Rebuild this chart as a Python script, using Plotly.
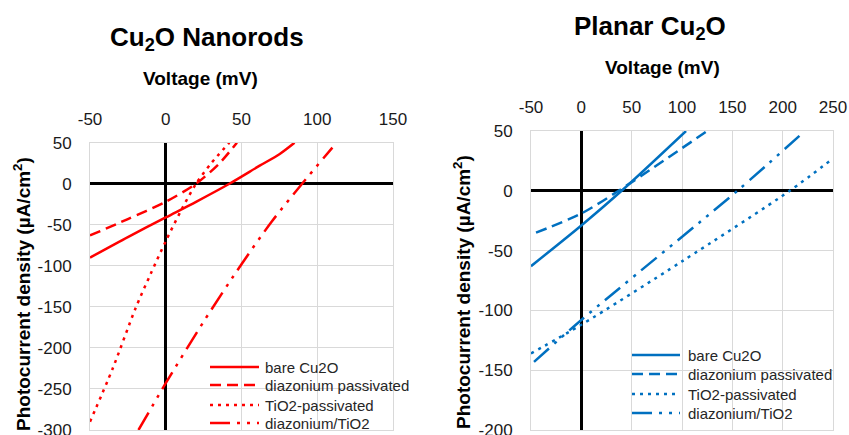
import plotly.graph_objects as go

# ---------------- data ----------------
series_names = ["bare Cu2O", "diazonium passivated", "TiO2-passivated", "diazonium/TiO2"]

# Cu2O Nanorods (left)
nr_bare_x = [-50, -25, 0, 20, 42, 62, 75, 85]
nr_bare_y = [-90, -65, -41, -22, 0, 22, 36, 50]
nr_diaz_x = [-50, -25, 0, 20, 35, 47]
nr_diaz_y = [-63, -43, -22, 0, 24, 50]
nr_tio2_x = [-50, -35, -20, -10, 0, 10, 20, 30, 42]
nr_tio2_y = [-290, -225, -152, -110, -70, -33, 0, 25, 50]
nr_dt_x = [-18, 0, 25, 50, 70, 90, 110]
nr_dt_y = [-300, -243, -168, -98, -46, 0, 44]

# Planar Cu2O (right)
pl_bare_x = [-50, 0, 40, 104]
pl_bare_y = [-63, -29, 0, 50]
pl_diaz_x = [-45, 0, 37, 125]
pl_diaz_y = [-35, -19, 0, 50]
pl_tio2_x = [-50, 0, 100, 207, 250]
pl_tio2_y = [-136, -112, -59, 0, 27]
pl_dt_x = [-47, 0, 155, 222]
pl_dt_y = [-143, -108, 0, 50]

left_xticks = [-50, 0, 50, 100, 150]
left_yticks = [50, 0, -50, -100, -150, -200, -250, -300]
right_xticks = [-50, 0, 50, 100, 150, 200, 250]
right_yticks = [50, 0, -50, -100, -150, -200]

# ---------------- styles ----------------
W, H = 849, 435
RED = "#ff0000"
BLUE = "#0070c0"
FONT = "Liberation Sans, Arial, sans-serif"
DASHES = ["solid", "11px,6px", "3px,5px", "20px,7px,3px,7px,3px,7px"]
LW = 2.5


def px(x):
    return x / W


def py(y):
    return 1 - y / H


def labels(vals):
    return [str(v) for v in vals]  # plain hyphen minus like the reference


fig = go.Figure()

left_sets = [(nr_bare_x, nr_bare_y), (nr_diaz_x, nr_diaz_y), (nr_tio2_x, nr_tio2_y), (nr_dt_x, nr_dt_y)]
right_sets = [(pl_bare_x, pl_bare_y), (pl_diaz_x, pl_diaz_y), (pl_tio2_x, pl_tio2_y), (pl_dt_x, pl_dt_y)]

for name, (xs, ys), dash in zip(series_names, left_sets, DASHES):
    fig.add_trace(go.Scatter(x=xs, y=ys, mode="lines", name=name, showlegend=False,
                             line=dict(color=RED, width=LW, dash=dash, shape="spline", smoothing=0.8),
                             xaxis="x", yaxis="y"))
for name, (xs, ys), dash in zip(series_names, right_sets, DASHES):
    fig.add_trace(go.Scatter(x=xs, y=ys, mode="lines", name=name, showlegend=False,
                             line=dict(color=BLUE, width=LW, dash=dash, shape="spline", smoothing=0.8),
                             xaxis="x2", yaxis="y2"))

grid = "#d9d9d9"
tickfont = dict(family=FONT, size=17, color="#1a1a1a")
common_x = dict(side="top", showgrid=True, gridcolor=grid, gridwidth=1, zeroline=True,
                zerolinecolor="black", zerolinewidth=2.5, showline=True, linecolor=grid,
                mirror=True, ticks="", tickfont=tickfont, automargin=False,
                ticklabelstandoff=10, ticklabeloverflow="allow", fixedrange=True)
common_y = dict(showgrid=True, gridcolor=grid, gridwidth=1, zeroline=True,
                zerolinecolor="black", zerolinewidth=2.5, showline=True, linecolor=grid,
                mirror=True, ticks="", tickfont=tickfont, automargin=False,
                ticklabelstandoff=14, ticklabeloverflow="allow", fixedrange=True)

fig.update_layout(
    width=W, height=H,
    margin=dict(l=0, r=0, t=0, b=0, pad=0),
    paper_bgcolor="white", plot_bgcolor="white",
    font=dict(family=FONT, color="black"),
    xaxis=dict(domain=[px(90), px(393)], range=[-50, 150], tickvals=left_xticks,
               ticktext=labels(left_xticks), anchor="y", **common_x),
    yaxis=dict(domain=[py(430), py(142.7)], range=[-300, 50], tickvals=left_yticks,
               ticktext=labels(left_yticks), anchor="x", **common_y),
    xaxis2=dict(domain=[px(531), px(833)], range=[-50, 250], tickvals=right_xticks,
                ticktext=labels(right_xticks), anchor="y2", **common_x),
    yaxis2=dict(domain=[py(430), py(131)], range=[-200, 50], tickvals=right_yticks,
                ticktext=labels(right_yticks), anchor="x2", **common_y),
)

ann = []
# titles
ann.append(dict(text="<b>Cu<sub>2</sub>O Nanorods</b>", x=px(207), y=py(38), font=dict(size=26)))
ann.append(dict(text="<b>Planar Cu<sub>2</sub>O</b>", x=px(650), y=py(27), font=dict(size=26)))
# x-axis titles
ann.append(dict(text="<b>Voltage (mV)</b>", x=px(200), y=py(78), font=dict(size=19)))
ann.append(dict(text="<b>Voltage (mV)</b>", x=px(662), y=py(68), font=dict(size=19)))
# y-axis titles
ann.append(dict(text="<b>Photocurrent density (µA/cm<sup>2</sup>)</b>", x=px(22), y=py(294),
                textangle=-90, font=dict(size=19)))
ann.append(dict(text="<b>Photocurrent density (µA/cm<sup>2</sup>)</b>", x=px(462), y=py(292),
                textangle=-90, font=dict(size=19)))
for a in ann:
    a.update(xref="paper", yref="paper", showarrow=False, xanchor="center", yanchor="middle")

shapes = []
# manual legends
left_rows = [367, 385, 405, 423]
right_rows = [355, 374, 394, 413]
for rows, color, x0, x1, xt in [(left_rows, RED, 210, 259, 263), (right_rows, BLUE, 632, 680, 686)]:
    for name, dash, ry in zip(series_names, DASHES, rows):
        shapes.append(dict(type="line", xref="paper", yref="paper", x0=px(x0), x1=px(x1),
                           y0=py(ry), y1=py(ry), line=dict(color=color, width=LW, dash=dash)))
        ann.append(dict(text=name, xref="paper", yref="paper", x=px(xt), y=py(ry),
                        xanchor="left", yanchor="middle", showarrow=False,
                        font=dict(size=15, color="#262626")))

fig.update_layout(annotations=ann, shapes=shapes)

fig.write_html("out.html", config={"displayModeBar": False},
               post_script="document.body.style.margin='0';document.body.style.overflow='hidden';")
